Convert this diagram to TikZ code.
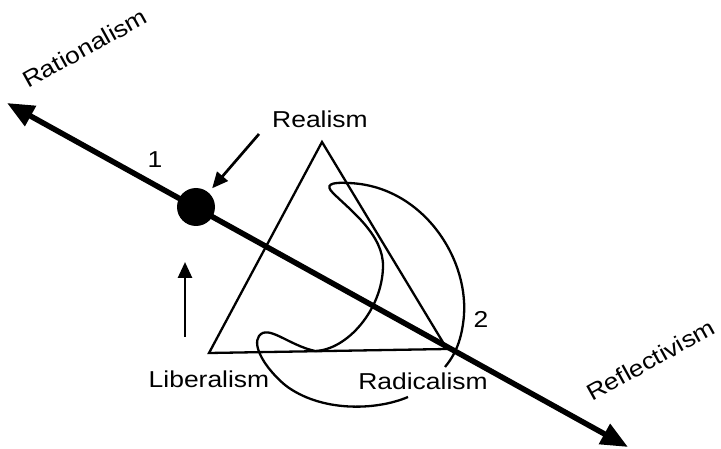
\documentclass[tikz,border=0pt]{standalone}
\usepackage{fontspec}
\setmainfont{Liberation Sans}[FakeStretch=1.15]
\usetikzlibrary{arrows.meta}
\begin{document}
\begin{tikzpicture}[x=1pt,y=-1pt,
  mainline/.style={line width=5.5pt, {Triangle[length=27pt,width=22pt]}-{Triangle[length=27pt,width=22pt]}},
  shapeline/.style={line width=2.3pt, line join=miter},
  curveline/.style={line width=2.3pt},
  pointer/.style={line width=2.7pt, -{Triangle[length=16pt,width=14pt]}},
  lbl/.style={font=\fontsize{23}{27}\selectfont, inner sep=0pt, anchor=base},
  dotstyle/.style={circle, fill=black, minimum size=38pt, inner sep=0pt}
]
\useasboundingbox (0,0) rectangle (721,449);

% coordinates
\coordinate (ratEnd) at (7,103);
\coordinate (refEnd) at (628,447);
\coordinate (apex) at (322,142);
\coordinate (baseL) at (209,353);
\coordinate (baseR) at (447,349);
\coordinate (rStart) at (259,134);
\coordinate (lStart) at (185,337);
\coordinate (lEnd) at (185,262);

% triangle
\draw[shapeline] (apex) -- (baseL) -- (baseR) -- cycle;

% looping curve
\draw[curveline] (408,397)
  .. controls (375,411) and (320,412) .. (285,385)
  .. controls (265,368) and (252,346) .. (259,336)
  .. controls (268,324) and (288,345) .. (315,351)
  .. controls (347,350) and (382,310) .. (383,267)
  .. controls (384,235) and (350,210) .. (333,193)
  .. controls (325,185) and (330,182) .. (348,183)
  .. controls (420,185) and (468,255) .. (464,315)
  .. controls (462,340) and (455,355) .. (445,367);

% main axis
\draw[mainline] (ratEnd) -- (refEnd);
\node[dotstyle] (dot) at (196,207) {};

% labels
\node[lbl] (realism) at (320,128) {Realism};
\node[lbl] (liberalism) at (209,388) {Liberalism};
\node[lbl] (radicalism) at (423,389) {Radicalism};
\node[lbl] (one) at (155,168) {1};
\node[lbl] (two) at (481,327) {2};
\node[lbl, anchor=base west, rotate=29] (rationalism) at (28,89) {Rationalism};
\node[lbl, anchor=base west, rotate=29] (reflectivism) at (592,402) {Reflectivism};

% pointers
\draw[pointer, shorten >=5.5pt] (rStart) -- (dot);
\draw[pointer] (lStart) -- (lEnd);
\end{tikzpicture}
\end{document}
